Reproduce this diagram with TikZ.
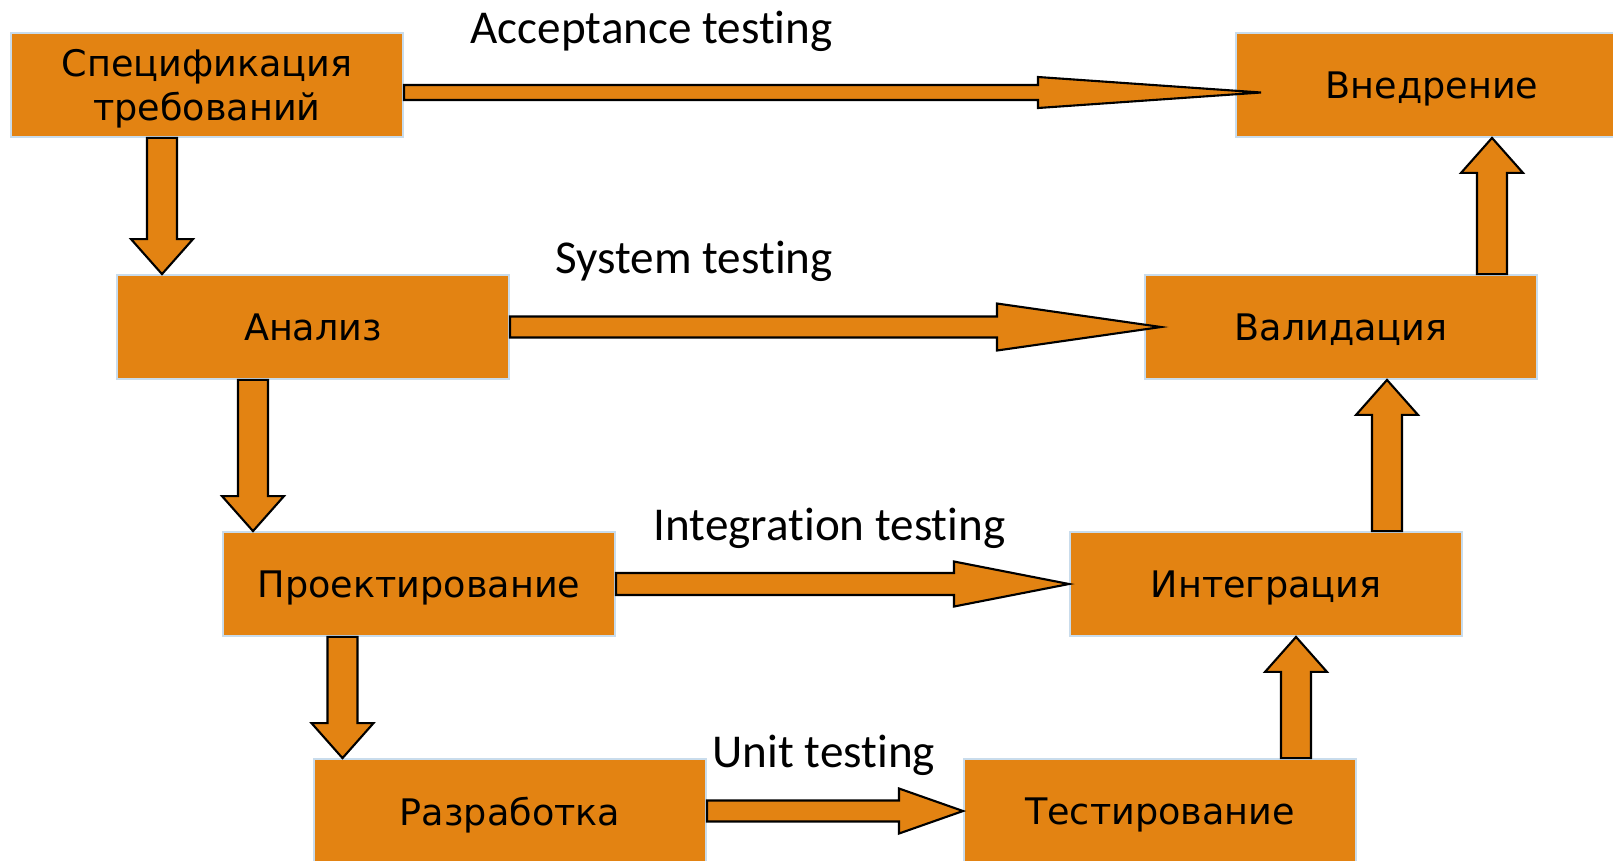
\documentclass[tikz,border=0pt]{standalone}
\usepackage{fontspec}
\setmainfont{DejaVu Sans}
\newfontfamily\lblfont[Ligatures=NoCommon]{Carlito}
\usepackage{xcolor}
\usetikzlibrary{calc}
\definecolor{amber}{HTML}{E38312}
\definecolor{edge}{HTML}{C9DCEC}

% fat horizontal arrow: from, to, dy, shaft half, head half, head length, overshoot
\newcommand{\hfat}[7]{%
  \draw[fat] ($(#1.east)+(0,{#3-#4})$) -- ($(#2.west)+({#7-#6},{#3-#4})$)
    -- ($(#2.west)+({#7-#6},{#3-#5})$) -- ($(#2.west)+(#7,#3)$)
    -- ($(#2.west)+({#7-#6},{#3+#5})$) -- ($(#2.west)+({#7-#6},{#3+#4})$)
    -- ($(#1.east)+(0,{#3+#4})$) -- cycle;}
% fat vertical arrow: start anchor, end anchor, dx, signed head length
\newcommand{\vfat}[4]{%
  \path ($(#1)+(#3,0)$) coordinate (s) (s |- #2) coordinate (t);
  \draw[fat] ($(s)+(-15,0)$) -- ($(t)+(-15,#4)$) -- ($(t)+(-31,#4)$) -- (t)
    -- ($(t)+(31,#4)$) -- ($(t)+(15,#4)$) -- ($(s)+(15,0)$) -- cycle;}

\begin{document}
\begin{tikzpicture}[
  x=0.01cm, y=-0.01cm,
  stage/.style={rectangle, draw=edge, line width=0.5pt, fill=amber, text=black,
    align=center, minimum width=3.92cm, minimum height=1.04cm, inner sep=0pt,
    text depth=0pt, font=\fontsize{10.4}{12.6}\selectfont},
  lbl/.style={anchor=base west, inner sep=0pt, font=\lblfont\fontsize{13.4}{16}\selectfont},
  fat/.style={draw=black, fill=amber, line width=0.6pt, line join=miter}
]
\useasboundingbox (0,0) rectangle (1613,860);

\node[stage] (spec) at (207,85) {Спецификация\\требований};
\node[stage] (deploy) at (1432,85) {Внедрение};
\node[stage] (analysis) at (313,327) {Анализ};
\node[stage] (valid) at (1341,327) {Валидация};
\node[stage] (design) at (419,584) {Проектирование};
\node[stage] (integr) at (1266,584) {Интеграция};
\node[stage] (dev) at (510,811) {Разработка};
\node[stage] (test) at (1160,811) {Тестирование};

\hfat{spec}{deploy}{7.5}{7.5}{15.5}{223}{26}
\hfat{analysis}{valid}{0}{10.5}{23.5}{164}{17}
\hfat{design}{integr}{0}{11}{22.5}{115}{0}
\hfat{dev}{test}{0}{10.5}{22.5}{64}{0}

\vfat{spec.south}{analysis.north}{-45}{-35}
\vfat{analysis.south}{design.north}{-60}{-35}
\vfat{design.south}{dev.north}{-76.5}{-35}
\vfat{test.north}{integr.south}{136}{35}
\vfat{integr.north}{valid.south}{121}{35}
\vfat{valid.north}{deploy.south}{151}{35}

\node[lbl] (acc) at (470,43) {Acceptance testing};
\node[lbl] (sys) at (555,273) {System testing};
\node[lbl] (int) at (653,540) {Integration testing};
\node[lbl] (unit) at (712,767) {Unit testing};
\end{tikzpicture}
\end{document}
